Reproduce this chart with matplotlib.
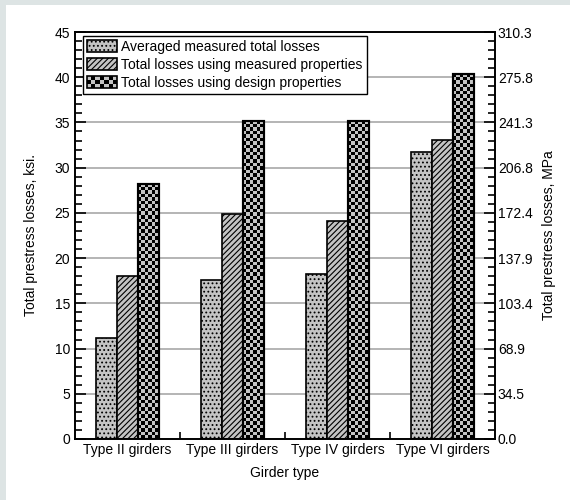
import numpy as np
import matplotlib
matplotlib.use('Agg')
import matplotlib.pyplot as plt
from matplotlib.patches import Rectangle
from matplotlib.legend_handler import HandlerBase
from matplotlib.ticker import MultipleLocator, FixedLocator

# Dados (ksi)
grupos = ['Type II girders', 'Type III girders', 'Type IV girders', 'Type VI girders']
medidas = [11.2, 17.6, 18.2, 31.7]
props_medidas = [18.0, 24.85, 24.1, 33.1]
props_projeto = [28.2, 35.2, 35.2, 40.4]
series = ['Averaged measured total losses',
          'Total losses using measured properties',
          'Total losses using design properties']
ticks_mpa = ['0.0', '34.5', '68.9', '103.4', '137.9', '172.4', '206.8', '241.3', '275.8', '310.3']

plt.rcParams['font.family'] = ['Liberation Sans', 'DejaVu Sans']
plt.rcParams['font.size'] = 10
plt.rcParams['hatch.linewidth'] = 0.8

cinza = '#c4c4c4'
fundo = '#dde4e4'

fig = plt.figure(figsize=(5.7, 5.0), dpi=100, facecolor='white')
# faixas cinzas no topo e na esquerda
fig.patches.append(Rectangle((0, 0), 6 / 570, 1, transform=fig.transFigure,
                             facecolor=fundo, edgecolor='none', zorder=-10))
fig.patches.append(Rectangle((0, 495 / 500), 1, 5 / 500, transform=fig.transFigure,
                             facecolor=fundo, edgecolor='none', zorder=-10))
ax = fig.add_axes([75 / 570, 61 / 500, 420 / 570, 407 / 500])

x = np.arange(len(grupos))
w = 0.2

ax.grid(axis='y', color='#a8a8a8', linewidth=1.2, zorder=0)
ax.set_axisbelow(True)

b1 = ax.bar(x - w, medidas, w, color=cinza, edgecolor='black', hatch='....',
            linewidth=1.2, zorder=2, label=series[0])
b2 = ax.bar(x, props_medidas, w, color=cinza, edgecolor='black', hatch='//////',
            linewidth=1.2, zorder=2, label=series[1])
b3 = ax.bar(x + w, props_projeto, w, color=cinza, edgecolor='black',
            linewidth=1.5, zorder=2, label=series[2])

# xadrez desenhado por cima das barras de projeto
cmap = matplotlib.colors.ListedColormap([cinza, 'black'])
for r in b3:
    x0, y0 = r.get_x(), r.get_y()
    bw, bh = r.get_width(), r.get_height()
    nx = 6
    cell_px = bw * 105.5 / nx
    ny = int(round(bh * 9.04 / cell_px))
    ii, jj = np.indices((ny, nx))
    img = ((ii + jj) % 2).astype(float)
    im = ax.imshow(img, extent=(x0, x0 + bw, y0, y0 + bh), origin='lower',
                   cmap=cmap, interpolation='nearest', aspect='auto', zorder=2.5)
    im.set_clip_path(r)
    ax.add_patch(Rectangle((x0, y0), bw, bh, fill=False, edgecolor='black',
                           linewidth=1.5, zorder=3))


class HandlerXadrez(HandlerBase):
    def create_artists(self, legend, orig_handle, xdescent, ydescent, width, height,
                       fontsize, trans):
        arts = []
        nx, ny = 7, 3
        cw, ch = width / nx, height / ny
        arts.append(Rectangle((-xdescent, -ydescent), width, height, facecolor=cinza,
                              edgecolor='none', transform=trans))
        for i in range(nx):
            for j in range(ny):
                if (i + j) % 2:
                    arts.append(Rectangle((-xdescent + i * cw, -ydescent + j * ch), cw, ch,
                                          facecolor='black', edgecolor='none', transform=trans))
        arts.append(Rectangle((-xdescent, -ydescent), width, height, fill=False,
                              edgecolor='black', linewidth=1.2, transform=trans))
        return arts


ax.set_xlim(-0.5, 3.5)
ax.set_ylim(0, 45)
ax.set_xticks(x)
ax.set_xticklabels(grupos)
ax.xaxis.set_minor_locator(FixedLocator([0.5, 1.5, 2.5]))
ax.yaxis.set_major_locator(MultipleLocator(5))
ax.yaxis.set_minor_locator(MultipleLocator(1))
ax.tick_params(which='both', direction='in', width=1.2)
ax.tick_params(which='major', length=8)
ax.tick_params(which='minor', length=5)
ax.tick_params(axis='x', which='both', top=False, pad=3)
for s in ax.spines.values():
    s.set_linewidth(1.2)

ax.set_xlabel('Girder type', labelpad=6)
ax.set_ylabel('Total prestress losses, ksi.', labelpad=12)

ax2 = ax.twinx()
ax2.set_ylim(0, 45)
ax2.set_yticks(np.arange(0, 46, 5))
ax2.set_yticklabels(ticks_mpa)
ax2.yaxis.set_minor_locator(MultipleLocator(1))
ax2.tick_params(which='both', direction='in', width=1.2)
ax2.tick_params(which='major', length=8, pad=2)
ax2.tick_params(which='minor', length=5)
ax2.set_ylabel('Total prestress losses, MPa', labelpad=7)
for s in ax2.spines.values():
    s.set_linewidth(1.2)

leg = ax.legend(handles=[b1, b2, b3], labels=series, loc='upper left',
                bbox_to_anchor=(0.018, 0.99), borderaxespad=0, fancybox=False,
                edgecolor='black', framealpha=1, fontsize=10,
                handlelength=2.2, handleheight=0.95, handletextpad=0.3,
                labelspacing=0.28, borderpad=0.3,
                handler_map={b3: HandlerXadrez()})
leg.get_frame().set_linewidth(1.0)
leg.set_zorder(5)

fig.savefig('out.png', dpi=100, facecolor=fig.get_facecolor())
